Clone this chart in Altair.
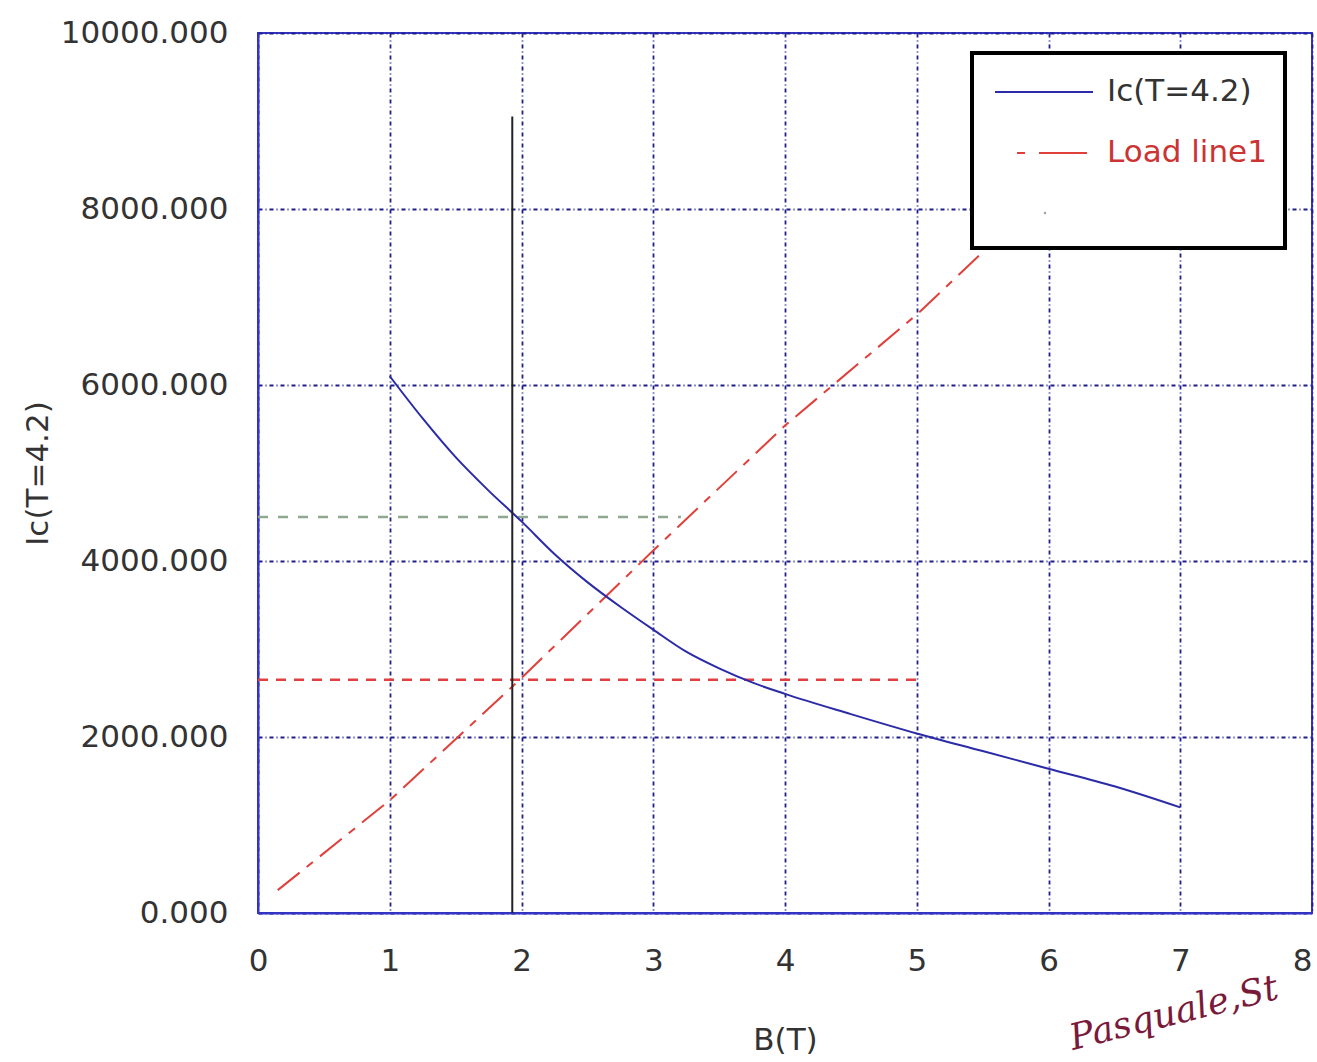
import altair as alt
import pandas as pd

# ---- data ----
ic_b = [1.0, 1.25, 1.5, 1.75, 2.0, 2.25, 2.5, 2.75, 3.0, 3.25, 3.5, 3.75, 4.0, 4.5, 5.0, 5.5, 6.0, 6.5, 7.0]
ic_val = [6100, 5620, 5180, 4800, 4450, 4080, 3760, 3480, 3220, 2970, 2780, 2620, 2490, 2260, 2040, 1840, 1640, 1440, 1200]

load_b = [0.15, 1.0, 2.0, 3.0, 4.0, 5.0, 5.6]
load_val = [260, 1280, 2670, 4120, 5540, 6800, 7650]

vline_b = [1.93, 1.93]
vline_val = [0, 9050]

green_b = [0.0, 3.21]
green_val = [4500, 4500]

redh_b = [0.0, 5.04]
redh_val = [2650, 2650]

x_ticks = [0, 1, 2, 3, 4, 5, 6, 7, 8]
y_ticks = [0, 2000, 4000, 6000, 8000, 10000]

ic_df = pd.DataFrame({"B": ic_b, "Ic": ic_val})
load_df = pd.DataFrame({"B": load_b, "Ic": load_val})
vline_df = pd.DataFrame({"B": vline_b, "Ic": vline_val})
green_df = pd.DataFrame({"B": green_b, "Ic": green_val})
redh_df = pd.DataFrame({"B": redh_b, "Ic": redh_val})

FONT = "DejaVu Sans"
FS = 31
W, H = 1054, 880

xscale = alt.Scale(domain=[0, 8], nice=False, zero=False)
yscale = alt.Scale(domain=[0, 10000], nice=False)

xenc = alt.X(
    "B:Q", scale=xscale,
    axis=alt.Axis(
        values=x_ticks, format="d", title="B(T)", grid=True, labelFlush=False,
        labelAlign=alt.ConditionalAxisLabelAlign(
            condition={"test": "datum.value >= 8", "value": "right"}, value="center"
        ),
        labelPadding=33, titleY=127, titleBaseline="middle",
    ),
)
yenc = alt.Y(
    "Ic:Q", scale=yscale,
    axis=alt.Axis(
        values=y_ticks, format=".3f", title="Ic(T=4.2)", grid=True, labelFlush=False,
        labelPadding=30, titleX=-220, titleY=440, titleAngle=270,
        titleBaseline="middle", titleAlign="center",
    ),
)

ic_line = alt.Chart(ic_df).mark_line(
    color="#2b2ba8", strokeWidth=2, interpolate="monotone"
).encode(x=xenc, y=yenc)
load_line = alt.Chart(load_df).mark_line(
    color="#e0403a", strokeWidth=2, strokeDash=[28, 9, 8, 9]
).encode(x="B:Q", y="Ic:Q")
vline = alt.Chart(vline_df).mark_line(color="#222222", strokeWidth=2).encode(x="B:Q", y="Ic:Q")
green = alt.Chart(green_df).mark_line(
    color="#8fa88f", strokeWidth=2.5, strokeDash=[10, 10]
).encode(x="B:Q", y="Ic:Q")
redh = alt.Chart(redh_df).mark_line(
    color="#e04040", strokeWidth=2.5, strokeDash=[10, 8]
).encode(x="B:Q", y="Ic:Q")

# ---- legend box (drawn by hand) ----
one = pd.DataFrame({"a": [0]})
legend_box = alt.Chart(one).mark_rect(
    fill="white", stroke="black", strokeWidth=4
).encode(x=alt.value(714), x2=alt.value(1027), y=alt.value(20), y2=alt.value(215))
leg_l1 = alt.Chart(one).mark_rule(color="#2b2ba8", strokeWidth=2).encode(
    x=alt.value(737), x2=alt.value(835), y=alt.value(59))
leg_l2 = alt.Chart(one).mark_rule(
    color="#e0403a", strokeWidth=2, strokeDash=[8, 14, 48, 14]).encode(
    x=alt.value(759), x2=alt.value(830), y=alt.value(120))
leg_t1 = alt.Chart(pd.DataFrame({"t": ["Ic(T=4.2)"]})).mark_text(
    align="left", baseline="middle", font=FONT, fontSize=FS, color="#333333").encode(
    x=alt.value(849), y=alt.value(59), text="t:N")
leg_t2 = alt.Chart(pd.DataFrame({"t": ["Load line1"]})).mark_text(
    align="left", baseline="middle", font=FONT, fontSize=FS, color="#cc3333").encode(
    x=alt.value(849), y=alt.value(120), text="t:N")
leg_dot = alt.Chart(one).mark_point(
    filled=True, size=6, color="#777777").encode(x=alt.value(787), y=alt.value(180))

watermark = alt.Chart(pd.DataFrame({"t": ["Pasquale,St"]})).mark_text(
    align="left", baseline="alphabetic", font="DejaVu Serif", fontStyle="italic",
    fontSize=36, color="#7a1a3a", angle=346).encode(
    x=alt.value(815), y=alt.value(1017), text="t:N")

chart = alt.layer(
    green, redh, load_line, ic_line, vline,
    legend_box, leg_l1, leg_l2, leg_t1, leg_t2, leg_dot, watermark,
).properties(
    width=W, height=H,
    autosize=alt.AutoSizeParams(type="none"),
    padding={"left": 258, "top": 33, "right": 5, "bottom": 149},
    background="white",
).configure_view(
    stroke="#3535c8", strokeWidth=2,
).configure_axis(
    domainColor="#3535c8", domainWidth=2,
    gridColor="#1f1f8a", gridDash=[4, 3, 1, 3], gridWidth=1.8, gridOpacity=1,
    ticks=False,
    labelFont=FONT, labelFontSize=FS, labelColor="#333333",
    titleFont=FONT, titleFontSize=FS, titleColor="#333333", titleFontWeight="normal",
)

chart.save("out.html", embed_options={"renderer": "svg", "actions": False})
